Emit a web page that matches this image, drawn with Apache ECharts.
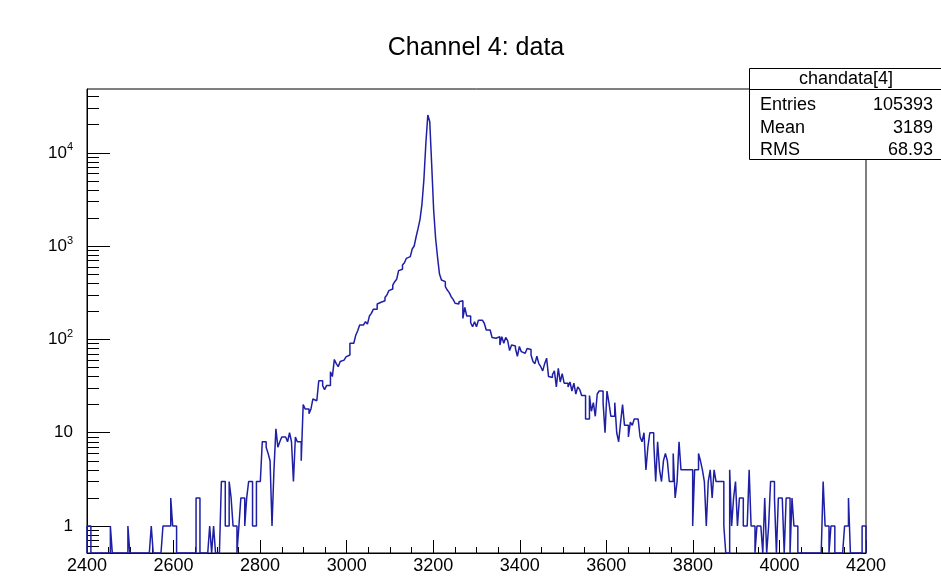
<!DOCTYPE html>
<html>
<head>
<meta charset="utf-8">
<script src="https://cdn.jsdelivr.net/npm/echarts@6/dist/echarts.min.js"></script>
<style>
  html, body { margin: 0; padding: 0; background: #ffffff; }
  #chart { width: 941px; height: 576px; }
</style>
</head>
<body>
<div id="chart"></div>
<script>
// Histogram binning: 400 bins of 4.5 ADC counts between 2400 and 4200
const binLow = 2400;
const binHigh = 4200;
const binWidth = 4.5;

// Bin contents, 20 bins per row
const counts = [
  1, 1, 0, 0, 0, 0, 0, 0, 0, 0, 0, 0, 1, 0, 0, 0, 0, 0, 0, 0,
  0, 1, 0, 0, 0, 0, 0, 0, 0, 0, 0, 0, 0, 1, 0, 0, 0, 0, 0, 1,
  1, 1, 1, 2, 1, 1, 0, 0, 0, 0, 0, 0, 0, 0, 0, 0, 2, 2, 0, 0,
  0, 0, 0, 1, 0, 1, 0, 0, 0, 3, 3, 1, 1, 3, 2, 1, 1, 0, 1, 2,
  2, 1, 2, 3, 3, 1, 1, 3, 3, 3, 8, 8, 7, 6, 5, 1, 4, 11, 7, 8,
  9, 9, 9, 8, 10, 8, 3, 9, 8, 8, 5, 20, 18, 18, 16, 18, 23, 22, 22, 36,
  36, 32, 29, 32, 32, 45, 40, 61, 55, 51, 58, 60, 60, 65, 68, 91, 91, 91, 111, 124,
  143, 143, 143, 155, 146, 178, 190, 210, 210, 240, 250, 260, 260, 282, 299, 333, 347, 383, 416, 441,
  546, 564, 627, 664, 740, 771, 803, 931, 1003, 1260, 1549, 1936, 2824, 5199, 12640, 25410, 21540, 7400, 2438, 1213,
  759, 502, 433, 416, 367, 338, 317, 287, 269, 244, 240, 254, 260, 168, 221, 178, 178, 151, 137, 155,
  137, 161, 161, 161, 149, 126, 126, 124, 105, 103, 100, 107, 87, 107, 91, 105, 97, 76, 87, 85,
  80, 66, 84, 74, 71, 71, 80, 78, 68, 58, 55, 66, 55, 51, 46, 55, 63, 40, 39, 42,
  46, 31, 49, 35, 43, 34, 34, 31, 35, 28, 34, 26, 31, 29, 25, 25, 14, 14, 25, 17,
  21, 15, 26, 28, 28, 21, 10, 28, 21, 15, 15, 21, 10, 8, 13, 20, 12, 12, 9, 13,
  12, 14, 14, 14, 9, 8, 10, 4, 7, 10, 10, 8, 3, 8, 4, 3, 5, 6, 5, 3,
  3, 6, 2, 3, 8, 4, 4, 4, 4, 4, 4, 1, 4, 4, 6, 5, 4, 3, 1, 3,
  4, 2, 4, 3, 3, 3, 3, 1, 0, 0, 4, 1, 2, 3, 1, 2, 2, 1, 1, 1,
  4, 1, 1, 0, 1, 1, 1, 0, 2, 0, 1, 3, 3, 2, 0, 2, 2, 2, 0, 2,
  2, 0, 2, 1, 1, 0, 0, 0, 0, 0, 0, 0, 0, 0, 0, 0, 0, 0, 3, 1,
  1, 0, 1, 1, 0, 0, 0, 0, 0, 1, 1, 2, 0, 0, 0, 0, 0, 0, 1, 1
];

// Vertical (log) axis range and tick positions
const yMin = 0.514;
const yMax = 48300;
const yDecades = [1, 10, 100, 1000, 10000];
const yDecadeBase = ['1', '10', '10', '10', '10'];
const yDecadeExp = ['', '', '2', '3', '4'];
const yMinorTicks = [
  0.6, 0.7, 0.8, 0.9,
  2, 3, 4, 5, 6, 7, 8, 9,
  20, 30, 40, 50, 60, 70, 80, 90,
  200, 300, 400, 500, 600, 700, 800, 900,
  2000, 3000, 4000, 5000, 6000, 7000, 8000, 9000,
  20000, 30000, 40000
];

// Statistics box
const statsTitle = 'chandata[4]';
const statsNames = ['Entries', 'Mean', 'RMS'];
const statsValues = ['105393', '3189', '68.93'];
const chartTitle = 'Channel 4: data';

// Step outline: each bin drawn from its low edge; empty bins drop to the frame bottom
const outline = [[binLow, yMin]];
counts.forEach(function (c, i) {
  outline.push([binLow + i * binWidth, c > 0 ? c : yMin]);
});
outline.push([binHigh, counts[counts.length - 1] > 0 ? counts[counts.length - 1] : yMin]);
outline.push([binHigh, yMin]);

const FONT = '"Liberation Sans", Arial, Helvetica, sans-serif';
const chart = echarts.init(document.getElementById('chart'), null, { renderer: 'canvas' });

const gridBox = { left: 87, top: 89, width: 779, height: 464 };

function decadeLabel(v) {
  const idx = yDecades.findIndex(function (d) { return Math.abs(d - v) / d < 1e-6; });
  if (idx < 0) return '';
  return '{b|' + yDecadeBase[idx] + '}' + (yDecadeExp[idx] ? '{s|' + yDecadeExp[idx] + '}' : '');
}

const statsFont = '18px ' + FONT;
const statsRowsY = [37, 60, 82];

chart.setOption({
  animation: false,
  backgroundColor: '#ffffff',
  grid: {
    left: gridBox.left, top: gridBox.top, width: gridBox.width, height: gridBox.height,
    show: true, borderColor: '#000000', borderWidth: 1, backgroundColor: 'transparent'
  },
  xAxis: {
    type: 'value',
    min: binLow, max: binHigh, interval: 200,
    axisLine: { show: true, onZero: false, lineStyle: { color: '#000000', width: 1 } },
    axisTick: { show: true, inside: true, length: 13, lineStyle: { color: '#000000', width: 1 } },
    minorTick: { show: true, splitNumber: 4, length: 6, lineStyle: { color: '#000000', width: 1 } },
    splitLine: { show: false },
    axisLabel: {
      color: '#000000', fontFamily: FONT, fontSize: 18, margin: 4,
      showMinLabel: true, showMaxLabel: true,
      formatter: function (v) { return String(v); }
    }
  },
  yAxis: [
    {
      type: 'log', logBase: 10, min: yMin, max: yMax, position: 'left',
      axisLine: { show: true, lineStyle: { color: '#000000', width: 1 } },
      axisTick: { show: true, inside: true, length: 23, customValues: yDecades, lineStyle: { color: '#000000', width: 1 } },
      splitLine: { show: false },
      axisLabel: {
        customValues: yDecades,
        margin: 14,
        color: '#000000',
        fontFamily: FONT,
        formatter: decadeLabel,
        rich: {
          b: { fontFamily: FONT, fontSize: 17, color: '#000000', lineHeight: 22 },
          s: { fontFamily: FONT, fontSize: 11, color: '#000000', lineHeight: 11, verticalAlign: 'top' }
        }
      }
    },
    {
      type: 'log', logBase: 10, min: yMin, max: yMax, position: 'left',
      axisLine: { show: false },
      axisTick: { show: true, inside: true, length: 12, customValues: yMinorTicks, lineStyle: { color: '#000000', width: 1 } },
      splitLine: { show: false },
      axisLabel: { show: false }
    }
  ],
  series: [{
    type: 'line',
    yAxisIndex: 0,
    data: outline,
    step: 'end',
    showSymbol: false,
    symbol: 'none',
    clip: true,
    lineStyle: { color: '#1f1fa6', width: 1.5 },
    z: 3
  }],
  graphic: [
    {
      type: 'text', x: 476, y: 48, z: 10,
      style: { text: chartTitle, font: '25px ' + FONT, fill: '#000000', align: 'center', verticalAlign: 'middle' }
    },
    {
      type: 'group', x: 749, y: 68, z: 20,
      children: [
        { type: 'rect', shape: { x: 0.5, y: 0.5, width: 220, height: 91 }, style: { fill: '#ffffff', stroke: '#000000', lineWidth: 1 } },
        { type: 'line', shape: { x1: 0.5, y1: 21.5, x2: 220, y2: 21.5 }, style: { stroke: '#000000', lineWidth: 1 } },
        { type: 'text', x: 97, y: 11, style: { text: statsTitle, font: statsFont, fill: '#000000', align: 'center', verticalAlign: 'middle' } },
        { type: 'text', x: 11, y: statsRowsY[0], style: { text: statsNames[0], font: statsFont, fill: '#000000', align: 'left', verticalAlign: 'middle' } },
        { type: 'text', x: 11, y: statsRowsY[1], style: { text: statsNames[1], font: statsFont, fill: '#000000', align: 'left', verticalAlign: 'middle' } },
        { type: 'text', x: 11, y: statsRowsY[2], style: { text: statsNames[2], font: statsFont, fill: '#000000', align: 'left', verticalAlign: 'middle' } },
        { type: 'text', x: 184, y: statsRowsY[0], style: { text: statsValues[0], font: statsFont, fill: '#000000', align: 'right', verticalAlign: 'middle' } },
        { type: 'text', x: 184, y: statsRowsY[1], style: { text: statsValues[1], font: statsFont, fill: '#000000', align: 'right', verticalAlign: 'middle' } },
        { type: 'text', x: 184, y: statsRowsY[2], style: { text: statsValues[2], font: statsFont, fill: '#000000', align: 'right', verticalAlign: 'middle' } }
      ]
    }
  ]
});
</script>
</body>
</html>
